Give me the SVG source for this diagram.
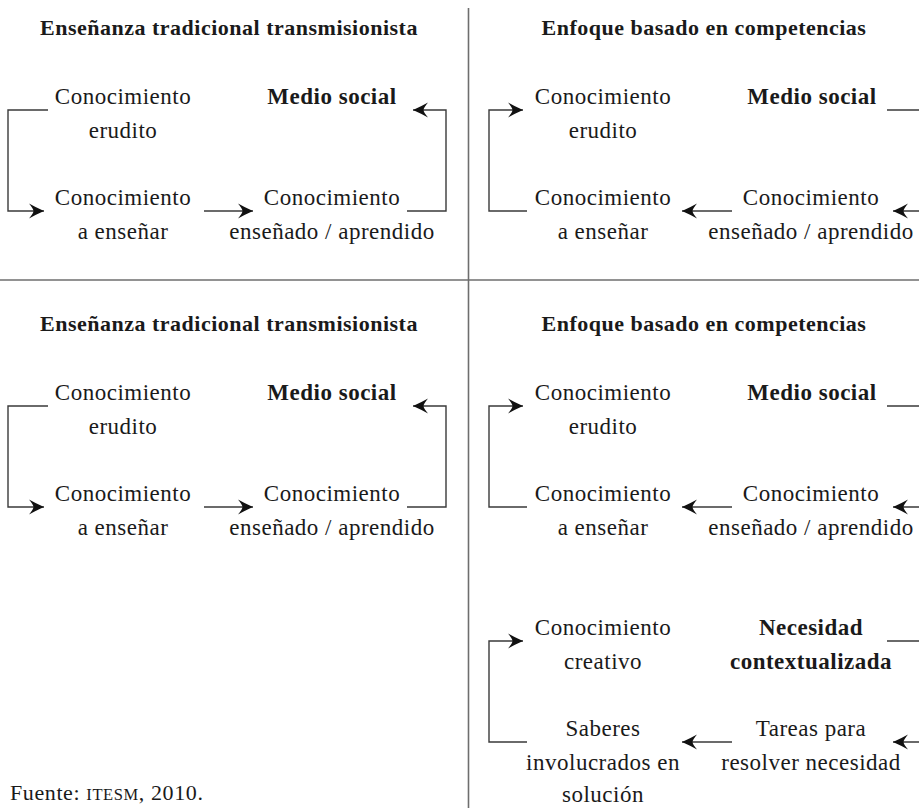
<svg xmlns="http://www.w3.org/2000/svg" width="919" height="808" viewBox="0 0 919 808">
<style>
.t{font-family:"Liberation Serif","Times New Roman",serif;font-size:23px;fill:#1a1a1a;text-anchor:middle;letter-spacing:0.5px}
.b{font-weight:bold}
.h{font-family:"Liberation Serif","Times New Roman",serif;font-size:22px;font-weight:bold;fill:#1a1a1a;text-anchor:middle;letter-spacing:0.5px}
.c{fill:none;stroke:#3a3a3a;stroke-width:1.4}
.a{marker-end:url(#ah)}
.d{stroke:#6e6e6e;stroke-width:1.6;fill:none}
.f{font-family:"Liberation Serif","Times New Roman",serif;font-size:22px;fill:#1a1a1a;letter-spacing:0.6px}
</style>
<defs>
<marker id="ah" viewBox="-17 -9 18 18" refX="0" refY="0" markerWidth="18" markerHeight="18" orient="auto" markerUnits="userSpaceOnUse">
<path d="M0,0 Q-8,-3.5 -15,-7.5 Q-10.5,-2 -10.5,0 Q-10.5,2 -15,7.5 Q-8,3.5 0,0 Z" fill="#111"/>
</marker>
</defs>

<g id="dividers">
<line class="d" x1="468.5" y1="8" x2="468.5" y2="808"/>
<line class="d" x1="0" y1="280" x2="919" y2="280"/>
</g>

<g id="titles">
<text class="h" x="229" y="35">Enseñanza tradicional transmisionista</text>
<text class="h" x="704" y="35">Enfoque basado en competencias</text>
<text class="h" x="229" y="331">Enseñanza tradicional transmisionista</text>
<text class="h" x="704" y="331">Enfoque basado en competencias</text>
</g>

<!-- Top-left panel -->
<g id="tl-erudito"><text class="t" x="123" y="104">Conocimiento</text><text class="t" x="123" y="138">erudito</text></g>
<g id="tl-medio"><text class="t b" x="332" y="104">Medio social</text></g>
<g id="tl-ensenar"><text class="t" x="123" y="205">Conocimiento</text><text class="t" x="123" y="239">a enseñar</text></g>
<g id="tl-ensenado"><text class="t" x="332" y="205">Conocimiento</text><text class="t" x="332" y="239">enseñado / aprendido</text></g>

<!-- Top-right panel -->
<g id="tr-erudito"><text class="t" x="603" y="104">Conocimiento</text><text class="t" x="603" y="138">erudito</text></g>
<g id="tr-medio"><text class="t b" x="812" y="104">Medio social</text></g>
<g id="tr-ensenar"><text class="t" x="603" y="205">Conocimiento</text><text class="t" x="603" y="239">a enseñar</text></g>
<g id="tr-ensenado"><text class="t" x="811" y="205">Conocimiento</text><text class="t" x="811" y="239">enseñado / aprendido</text></g>

<!-- Bottom-left panel -->
<g id="bl-erudito"><text class="t" x="123" y="400">Conocimiento</text><text class="t" x="123" y="434">erudito</text></g>
<g id="bl-medio"><text class="t b" x="332" y="400">Medio social</text></g>
<g id="bl-ensenar"><text class="t" x="123" y="501">Conocimiento</text><text class="t" x="123" y="535">a enseñar</text></g>
<g id="bl-ensenado"><text class="t" x="332" y="501">Conocimiento</text><text class="t" x="332" y="535">enseñado / aprendido</text></g>

<!-- Bottom-right panel -->
<g id="br-erudito"><text class="t" x="603" y="400">Conocimiento</text><text class="t" x="603" y="434">erudito</text></g>
<g id="br-medio"><text class="t b" x="812" y="400">Medio social</text></g>
<g id="br-ensenar"><text class="t" x="603" y="501">Conocimiento</text><text class="t" x="603" y="535">a enseñar</text></g>
<g id="br-ensenado"><text class="t" x="811" y="501">Conocimiento</text><text class="t" x="811" y="535">enseñado / aprendido</text></g>

<!-- Bottom-right extra cycle -->
<g id="br-creativo"><text class="t" x="603" y="635">Conocimiento</text><text class="t" x="603" y="669">creativo</text></g>
<g id="br-necesidad"><text class="t b" x="811" y="635">Necesidad</text><text class="t b" x="811" y="669">contextualizada</text></g>
<g id="br-saberes"><text class="t" x="603" y="736">Saberes</text><text class="t" x="603" y="770">involucrados en</text><text class="t" x="603" y="802">solución</text></g>
<g id="br-tareas"><text class="t" x="811" y="736">Tareas para</text><text class="t" x="811" y="770">resolver necesidad</text></g>

<g id="connectors">
<path class="c a" d="M48,110 H8 V211 H44"/>
<path class="c a" d="M204,211 H253"/>
<path class="c a" d="M407,211 H446 V110 H413"/>

<path class="c a" d="M527,211 H489 V110 H523"/>
<path class="c a" d="M732,211 H682"/>
<path class="c a" d="M887,110 H926 V211 H893"/>

<path class="c a" d="M48,406 H8 V507 H44"/>
<path class="c a" d="M204,507 H253"/>
<path class="c a" d="M407,507 H446 V406 H413"/>

<path class="c a" d="M527,507 H489 V406 H523"/>
<path class="c a" d="M732,507 H682"/>
<path class="c a" d="M887,406 H926 V507 H893"/>

<path class="c a" d="M527,742 H489 V641 H523"/>
<path class="c a" d="M732,742 H682"/>
<path class="c a" d="M887,641 H926 V742 H893"/>
</g>

<g id="source">
<text class="f" x="10" y="800">Fuente: <tspan font-size="16.5">ITESM</tspan>, 2010.</text>
</g>
</svg>
